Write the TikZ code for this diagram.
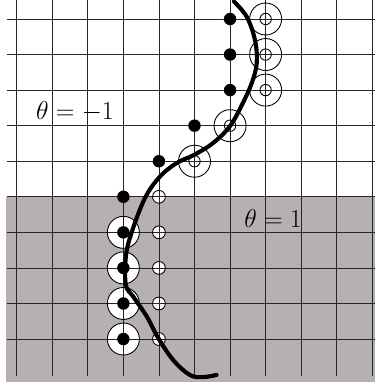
\documentclass[tikz,border=0pt]{standalone}
\usepackage{xcolor}
\definecolor{regiongray}{RGB}{182,176,176}
\tikzset{
  gridline/.style={black!85, line width=0.6pt},
  ring/.style={draw=black, line width=0.7pt},
  dotfill/.style={fill=black},
  lbl/.style={font=\fontsize{19.5}{22}\selectfont, inner sep=0pt},
  curve/.style={line width=3.3pt, black, line cap=round}
}
\begin{document}
\begin{tikzpicture}[x=1cm,y=1cm]
\useasboundingbox (-0.4696,-1.377) rectangle (10.076,9.534);
% shaded region
\fill[regiongray] (-0.30,-1.20) rectangle (10.076,4);
% white fills under grid
\foreach \j in {5,6,7,8,9} \fill[white] (4,9-\j) circle (0.18);
\foreach \j in {6,7,8,9} \fill[white] (3,9-\j) circle (0.45);
% grid
\foreach \i in {0,...,10} \draw[gridline] (\i,9.534) -- (\i,-1.03);
\foreach \j in {0,...,9} \draw[gridline] (-0.28,9-\j) -- (10.076,9-\j);
% outlines
\foreach \j in {5,6,7,8,9} \draw[ring] (4,9-\j) circle (0.18);
\foreach \j in {6,7,8,9} \draw[ring] (3,9-\j) circle (0.45);
% double circles
\foreach \p in {(7,9),(7,8),(7,7),(6,6),(5,5)} {
  \draw[ring] \p circle (0.16);
  \draw[ring] \p circle (0.45);
}
% filled dots
\foreach \p in {(6,9),(6,8),(6,7),(5,6),(4,5),(3,4),(3,3),(3,2),(3,1),(3,0)}
  \fill[dotfill] \p circle (0.175);
% curve
\draw[curve] plot[smooth, tension=0.6] coordinates {
 (6.11,9.49) (6.47,9.06) (6.70,8.41) (6.75,7.76) (6.61,7.20) (6.36,6.64)
 (6.0,5.99) (5.52,5.51) (4.99,5.18) (4.50,4.95) (4.03,4.57) (3.61,3.97)
 (3.23,2.99) (3.07,2.32) (3.07,1.52) (3.28,1.19) (3.66,0.63) (3.98,0.03)
 (4.40,-0.59) (4.87,-1.01) (5.24,-1.07) (5.62,-1.01)};
% labels
\node[lbl] (lneg) at (1.64,6.39) {$\theta=-1$};
\node[lbl] (lpos) at (7.21,3.40) {$\theta=1$};
\end{tikzpicture}
\end{document}
